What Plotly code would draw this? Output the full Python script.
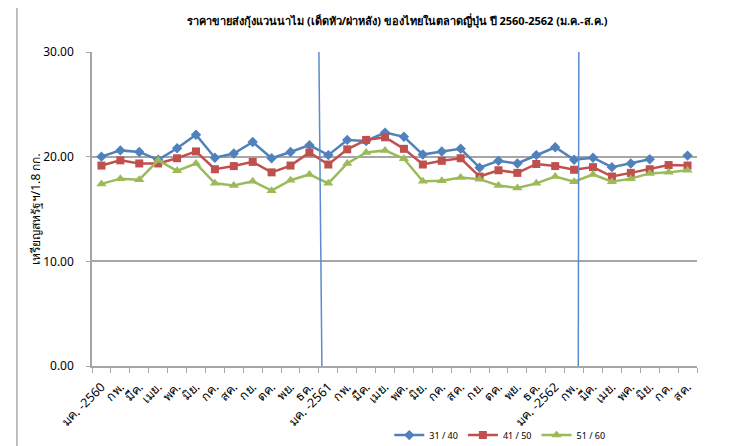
import plotly.graph_objects as go

months = ["มค. -2560", "กพ.", "มีค.", "เมย.", "พค.", "มิย.", "กค.", "สค.", "กย.", "ตค.", "พย.", "ธค.",
          "มค. -2561", "กพ.", "มีค.", "เมย.", "พค.", "มิย.", "กค.", "สค.", "กย.", "ตค.", "พย.", "ธค.",
          "มค. -2562", "กพ.", "มีค.", "เมย.", "พค.", "มิย.", "กค.", "สค."]

s31_40 = [20.0, 20.6, 20.45, 19.7, 20.8, 22.1, 19.9, 20.3, 21.4, 19.85, 20.45, 21.1,
          20.15, 21.6, 21.5, 22.3, 21.9, 20.2, 20.5, 20.75, 18.95, 19.6, 19.35, 20.15,
          20.9, 19.7, 19.9, 19.0, 19.35, 19.75, None, 20.1]
s41_50 = [19.15, 19.65, 19.35, 19.35, 19.85, 20.5, 18.8, 19.1, 19.5, 18.5, 19.15, 20.4,
          19.25, 20.7, 21.6, 21.85, 20.75, 19.25, 19.6, 19.85, 18.1, 18.7, 18.45, 19.3,
          19.1, 18.75, 19.0, 18.1, 18.45, 18.8, 19.2, 19.15]
s51_60 = [17.4, 17.9, 17.8, 19.65, 18.65, 19.35, 17.45, 17.25, 17.65, 16.75, 17.75, 18.3,
          17.45, 19.35, 20.4, 20.6, 19.8, 17.65, 17.7, 18.0, 17.85, 17.25, 17.0, 17.45,
          18.1, 17.6, 18.3, 17.6, 17.9, 18.4, 18.5, 18.7]

series_names = ["31 / 40", "41 / 50", "51 / 60"]
y_ticks = [0, 10, 20, 30]

title_text = "ราคาขายส่งกุ้งแวนนาไม (เด็ดหัว/ผ่าหลัง) ของไทยในตลาดญี่ปุ่น ปี 2560-2562 (ม.ค.-ส.ค.)"
y_title = "เหรียญสหรัฐฯ/1.8 กก."

FONT = "Tahoma, 'Noto Sans', 'DejaVu Sans', sans-serif"
x = list(range(len(months)))

fig = go.Figure()
styles = [
    ("#4F81BD", "diamond", 8),
    ("#C0504D", "square", 8),
    ("#9BBB59", "triangle-up", 9),
]
for name, vals, (col, sym, sz) in zip(series_names, [s31_40, s41_50, s51_60], styles):
    fig.add_trace(go.Scatter(
        x=x, y=vals, name=name, mode="lines+markers",
        line=dict(color=col, width=2.5),
        marker=dict(color=col, symbol=sym, size=sz),
        connectgaps=False,
    ))

# year separator lines
fig.add_shape(type="line", xref="x", yref="y", x0=11.66, y0=0, x1=11.5, y1=30.15,
              line=dict(color="#5B8BD0", width=1.5))
fig.add_shape(type="line", xref="x", yref="y", x0=25.22, y0=0, x1=25.25, y1=30.0,
              line=dict(color="#5B8BD0", width=1.5))
# chart-area left border
fig.add_shape(type="line", xref="paper", yref="paper", x0=-0.124, y0=-0.3, x1=-0.124, y1=1.2,
              line=dict(color="#7F7F7F", width=1))

fig.update_layout(
    width=729, height=438, autosize=False,
    margin=dict(l=84, r=40, t=44, b=80, autoexpand=False),
    paper_bgcolor="white", plot_bgcolor="white",
    font=dict(family=FONT, color="#000000", size=11),
    title=dict(text="<b>" + title_text + "</b>", xref="container", x=0.534, xanchor="center",
               yref="container", y=0.971, yanchor="middle",
               font=dict(size=11, family=FONT, color="#000000")),
    showlegend=True,
    legend=dict(orientation="h", x=0.674, xanchor="center", y=-0.22, yanchor="middle",
                font=dict(size=9, family=FONT), bgcolor="rgba(0,0,0,0)",
                itemwidth=30, tracegroupgap=0),
    annotations=[dict(text=y_title, xref="paper", yref="paper", x=-0.094, y=0.5,
                      textangle=-90, showarrow=False, xanchor="center", yanchor="middle",
                      font=dict(size=12, family=FONT, color="#000000"))],
)

fig.update_xaxes(
    automargin=False,
    range=[-0.5, len(months) - 0.5],
    tickmode="array", tickvals=x, ticktext=months, tickangle=-45,
    ticks="", showgrid=False, zeroline=False,
    showline=True, linecolor="#A6A6A6", linewidth=1.5,
    ticklabelstandoff=7,
    tickfont=dict(size=12.5, family=FONT, color="#000000"),
    minor=dict(tick0=-0.5, dtick=1, ticks="outside", ticklen=5, tickcolor="#A6A6A6", showgrid=False),
)
fig.update_yaxes(
    automargin=False,
    range=[0, 30], tickmode="array", tickvals=y_ticks,
    ticktext=["%.2f" % v for v in y_ticks],
    showgrid=True, gridcolor="#A6A6A6", gridwidth=1.5,
    zeroline=False, showline=True, linecolor="#A6A6A6", linewidth=1.5,
    ticks="outside", ticklen=4, tickcolor="#A6A6A6", ticklabelstandoff=10,
    tickfont=dict(size=12, family=FONT, color="#000000"),
)

fig.write_html("out.html")
